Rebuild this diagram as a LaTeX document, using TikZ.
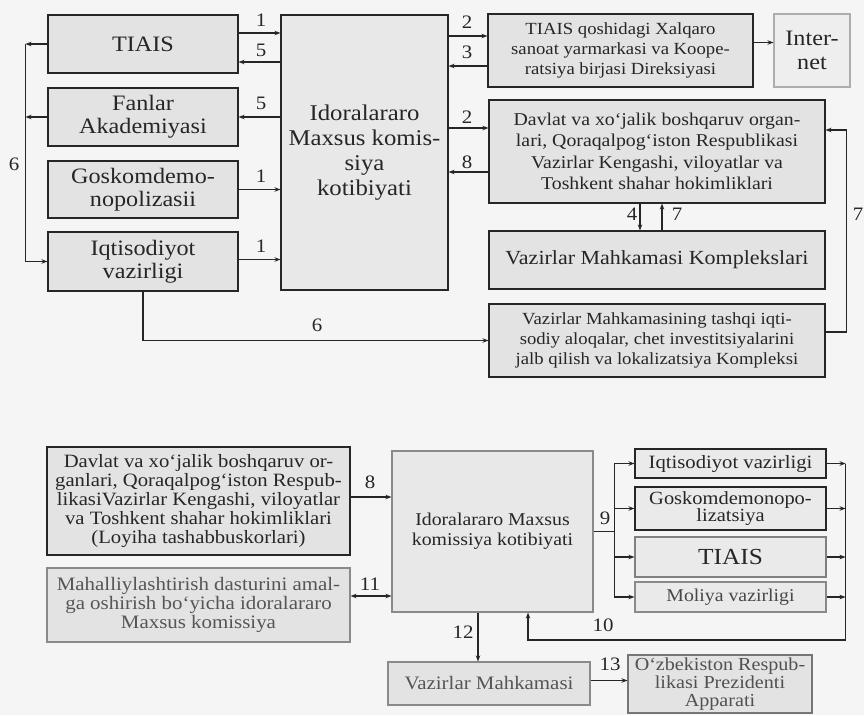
\documentclass[tikz,border=0pt]{standalone}
\usepackage{fontspec}
\setmainfont[FakeStretch=1.1]{Liberation Serif}
\usetikzlibrary{arrows.meta,calc}
\definecolor{bg}{HTML}{F5F5F5}
\definecolor{boxfill}{HTML}{E3E3E3}
\definecolor{ink}{HTML}{262626}
\definecolor{soft}{HTML}{8A8A8A}
\definecolor{softtxt}{HTML}{555555}
\newcommand\myfs[2]{\fontsize{#1}{#2}\selectfont}
\begin{document}
\begin{tikzpicture}[x=1pt,y=-1pt,
  box/.style={draw=ink, fill=boxfill, line width=1.1pt, inner sep=0pt, align=center, text=ink},
  softbox/.style={box, draw=soft, text=softtxt},
  arr/.style={draw=ink, line width=1.1pt, -{Stealth[length=6pt,width=4.5pt]}},
  arrboth/.style={draw=ink, line width=1.1pt, {Stealth[length=6pt,width=4.5pt]}-{Stealth[length=6pt,width=4.5pt]}},
  plain/.style={draw=ink, line width=1.1pt},
  lbl/.style={font=\myfs{19}{19}, text=ink, inner sep=0pt}]
\useasboundingbox (0,0) rectangle (864,715);
\fill[bg] (0,0) rectangle (864,715);

% ---------- top diagram ----------
\node[box, minimum width=190pt, minimum height=58pt, font=\myfs{22}{24}] (tiais) at (143,44) {TIAIS};
\node[box, minimum width=190pt, minimum height=58pt, font=\myfs{22}{23}] (fanlar) at (143,117) {Fanlar\\Akademiyasi};
\node[box, minimum width=190pt, minimum height=57pt, font=\myfs{22}{23}] (gosko) at (143,189.5) {Goskomdemo-\\nopolizasii};
\node[box, minimum width=190pt, minimum height=59pt, font=\myfs{22}{23}] (iqtis) at (143,261.5) {Iqtisodiyot\\vazirligi};
\node[box, fill=boxfill!70!bg, minimum width=167pt, minimum height=275pt, font=\myfs{22.5}{25}] (central) at (364.5,152.5) {Idoralararo\\Maxsus komis-\\siya\\kotibiyati};
\node[box, minimum width=265pt, minimum height=73pt, font=\myfs{17}{20}] (xalq) at (620.5,50.5) {TIAIS qoshidagi Xalqaro\\sanoat yarmarkasi va Koope-\\ratsiya birjasi Direksiyasi};
\node[box, draw=soft!70, fill=bg!60!boxfill, minimum width=76pt, minimum height=73pt, font=\myfs{22}{24}] (internet) at (812,50.5) {Inter-\\net};
\node[box, minimum width=336pt, minimum height=103pt, font=\myfs{18}{21.5}] (davlat) at (657,151.5) {Davlat va xo‘jalik boshqaruv organ-\\lari, Qoraqalpog‘iston Respublikasi\\Vazirlar Kengashi, viloyatlar va\\Toshkent shahar hokimliklari};
\node[box, minimum width=336pt, minimum height=58pt, font=\myfs{20}{22}] (kompl) at (657,260) {Vazirlar Mahkamasi Komplekslari};
\node[box, minimum width=336pt, minimum height=73pt, font=\myfs{17}{20}] (tashqi) at (657,340.5) {Vazirlar Mahkamasining tashqi iqti-\\sodiy aloqalar, chet investitsiyalarini\\jalb qilish va lokalizatsiya Kompleksi};

% links left of central
\coordinate (p1) at ($(tiais.east)+(0,-11)$);
\draw[arr] (p1) -- (p1 -| central.west);
\coordinate (p5) at ($(tiais.east)+(0,18)$);
\draw[arr] (p5 -| central.west) -- (p5);
\draw[arr] (central.west |- fanlar.east) -- (fanlar.east);
\draw[arr] (gosko.east) -- (gosko.east -| central.west);
\coordinate (p1c) at ($(iqtis.east)+(0,-2)$);
\draw[arr] (p1c) -- (p1c -| central.west);
\node[lbl] (la1) at (261,20) {1};
\node[lbl] (la5) at (261,50) {5};
\node[lbl] (lb5) at (261,103) {5};
\node[lbl] (lc1) at (261,176) {1};
\node[lbl] (ld1) at (261,246) {1};

% links right of central
\coordinate (q2) at ($(xalq.west)+(0,-14.5)$);
\draw[arr] (q2 -| central.east) -- (q2);
\coordinate (q3) at ($(xalq.west)+(0,15.5)$);
\draw[arr] (q3) -- (q3 -| central.east);
\coordinate (r2) at ($(davlat.west)+(0,-23.5)$);
\draw[arr] (r2 -| central.east) -- (r2);
\coordinate (r8) at ($(davlat.west)+(0,20.5)$);
\draw[arr] (r8) -- (r8 -| central.east);
\coordinate (qi) at ($(xalq.east)+(0,-8)$);
\draw[arr] (qi) -- (qi -| internet.west);
\node[lbl] (le2) at (467,22) {2};
\node[lbl] (le3) at (467,52) {3};
\node[lbl] (lf2) at (467,117) {2};
\node[lbl] (lf8) at (467,162) {8};

% loop 6 on the left
\coordinate (l6) at ($(tiais.west)+(-22,0)$);
\draw[arr] (tiais.west) -- (l6);
\draw[arr] (fanlar.west) -- (fanlar.west -| l6);
\draw[arr] (l6) |- (iqtis.west);
\node[lbl] (lg6) at (14,164) {6};

% 6 to the complex
\draw[arr] (iqtis.south) |- (tashqi.west);
\node[lbl] (lh6) at (317,325) {6};

% 4 and 7
\coordinate (d4) at ($(davlat.south)+(-17,0)$);
\draw[arr] (d4) -- (d4 |- kompl.north);
\coordinate (d7) at ($(kompl.north)+(5,0)$);
\draw[arr] (d7) -- (d7 |- davlat.south);
\node[lbl] (li4) at (632,214) {4};
\node[lbl] (li7) at (677,214) {7};

% 7 on the right
\coordinate (t7) at ($(tashqi.east)+(0,-8.5)$);
\coordinate (v7) at ($(davlat.east)+(0,-21.5)$);
\draw[arr] (t7) -- ++(21,0) |- (v7);
\node[lbl] (lj7) at (858,214) {7};

% ---------- bottom diagram ----------
\node[box, minimum width=303pt, minimum height=108pt, font=\myfs{18.8}{18.8}] (bdav) at (198.5,501) {Davlat va xo‘jalik boshqaruv or-\\ganlari, Qoraqalpog‘iston Respub-\\likasiVazirlar Kengashi, viloyatlar\\va Toshkent shahar hokimliklari\\(Loyiha tashabbuskorlari)};
\node[softbox, minimum width=303pt, minimum height=74pt, font=\myfs{19}{19}] (mahal) at (198.5,605) {Mahalliylashtirish dasturini amal-\\ga oshirish bo‘yicha idoralararo\\Maxsus komissiya};
\node[box, draw=soft, fill=boxfill!70!bg, minimum width=201pt, minimum height=161pt, font=\myfs{18}{20}] (bcent) at (492.5,531.5) {Idoralararo Maxsus\\komissiya kotibiyati};
\node[box, fill=boxfill!60!bg, minimum width=191pt, minimum height=29pt, font=\myfs{18.8}{20}] (biqt) at (730.5,463.5) {Iqtisodiyot vazirligi};
\node[box, fill=boxfill!60!bg, minimum width=191pt, minimum height=43pt, font=\myfs{18.6}{15}] (bgosk) at (730.5,508.5) {Goskomdemonopo-\\lizatsiya};
\node[box, draw=soft!90!ink, fill=boxfill!60!bg, minimum width=191pt, minimum height=40pt, font=\myfs{23}{24}] (btiais) at (730.5,557) {TIAIS};
\node[softbox, fill=boxfill!60!bg, text=ink!85, minimum width=191pt, minimum height=30pt, font=\myfs{18}{19}] (bmol) at (730.5,597) {Moliya vazirligi};
\node[softbox, minimum width=202pt, minimum height=43pt, font=\myfs{19}{20}] (bvaz) at (489,683.5) {Vazirlar Mahkamasi};
\node[softbox, draw=soft!80!ink, text=ink!80, minimum width=184pt, minimum height=58pt, font=\myfs{18.3}{18}] (bozb) at (720,684) {O‘zbekiston Respub-\\likasi Prezidenti\\Apparati};

% 8 and 11
\coordinate (s8) at ($(bdav.east)+(0,-4)$);
\draw[arr] (s8) -- (s8 -| bcent.west);
\coordinate (m11) at ($(mahal.east)+(0,-9)$);
\draw[arrboth] (m11) -- (m11 -| bcent.west);
\node[lbl] (lk8) at (370,482) {8};
\node[lbl] (lk11) at (370,584) {11};

% 9 fan-out
\coordinate (b9) at ($(bcent.east)+(21,0)$);
\draw[plain] (bcent.east) -- (b9);
\draw[arr] (b9) |- (biqt.west);
\draw[arr] (b9) |- (bgosk.west);
\draw[arr] (b9) |- (btiais.west);
\draw[arr] (b9) |- (bmol.west);
\node[lbl] (ll9) at (605,518) {9};

% 10 return
\coordinate (b10) at ($(biqt.east)+(19,0)$);
\draw[arr] (biqt.east) -- (b10);
\draw[arr] (bgosk.east) -- (bgosk.east -| b10);
\draw[arr] (btiais.east) -- (btiais.east -| b10);
\draw[arr] (bmol.east) -- (bmol.east -| b10);
\coordinate (b10d) at ($(b10)+(0,176.5)$);
\coordinate (c10) at ($(bcent.south)+(35.5,0)$);
\draw[arr] (b10) -- (b10d) -| (c10);
\node[lbl] (lm10) at (603,625) {10};

% 12 and 13
\coordinate (c12) at ($(bcent.south)+(-14.5,0)$);
\draw[arr] (c12) -- (c12 |- bvaz.north);
\node[lbl] (ln12) at (463,632) {12};
\coordinate (c13) at ($(bvaz.east)+(0,-3)$);
\draw[arr] (c13) -- (c13 -| bozb.west);
\node[lbl] (lo13) at (610,664) {13};
\end{tikzpicture}
\end{document}
